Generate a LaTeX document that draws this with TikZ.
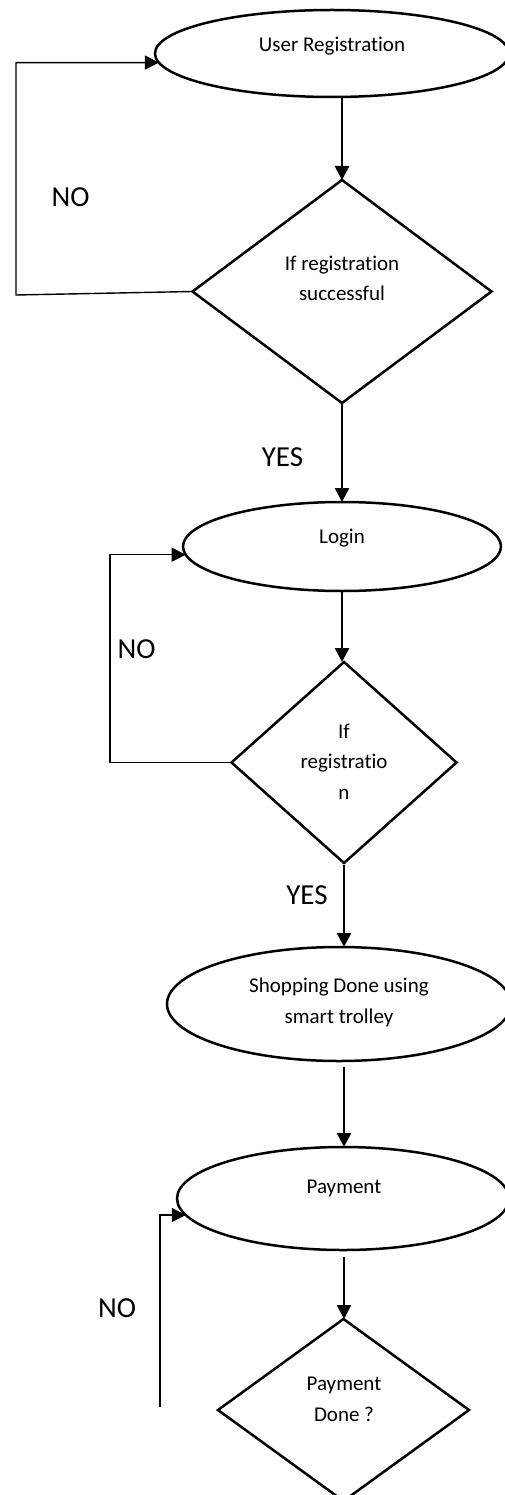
\documentclass[tikz,border=0pt]{standalone}
\usepackage{fontspec}
\setmainfont{Carlito}[Ligatures={NoCommon}]
\usetikzlibrary{shapes.geometric,arrows.meta}
\begin{document}
\begin{tikzpicture}[x=1pt,y=-1pt,
  ell/.style={ellipse,draw,line width=2.5pt,inner sep=0pt,outer sep=0pt},
  dia/.style={diamond,draw,line width=2.5pt,inner sep=0pt,outer sep=0pt},
  txt/.style={font=\fontsize{21}{30.5}\selectfont,align=center,anchor=base,inner sep=0pt},
  lbl/.style={font=\fontsize{29}{34}\selectfont,inner sep=0pt},
  flow/.style={line width=2.6pt,-{Triangle[length=14pt,width=14pt]}},
  back/.style={line width=1.4pt,-{Triangle[length=14pt,width=14pt]}},
]
\useasboundingbox (0,0) rectangle (505,1495);
\fill[white] (0,0) rectangle (505,1495);

% User Registration
\node[ell,minimum width=354pt,minimum height=87pt] (ur) at (332,53.5) {};
\node[txt] (urt) at (332,52) {User Registration};

% Decision 1
\node[dia,minimum width=299pt,minimum height=223pt] (d1) at (342,291.5) {};
\node[txt] (d1t) at (342,301) {If registration\\successful};
\draw[flow] (d1.north |- ur.south) -- (d1.north);
\draw[back] (d1.west) -- (16,295) |- (ur.183);
\node[lbl] (no1) at (70.5,197.5) {NO};

% Login
\node[ell,minimum width=318pt,minimum height=89pt] (login) at (342,546.5) {};
\node[txt] (logint) at (342,543) {Login};
\draw[flow] (d1.south) -- (login.north);
\node[lbl] (yes1) at (282.5,457) {YES};

% Decision 2
\node[dia,minimum width=225pt,minimum height=201pt] (d2) at (344,762.5) {};
\node[txt] (d2t) at (344,799) {If\\registratio\\n};
\draw[flow] (login.south) -- (login.south |- d2.north);
\draw[back] (d2.west) -- (110,762.5) |- (login.183);
\node[lbl] (no2) at (136.5,649) {NO};

% Shopping
\node[ell,minimum width=344pt,minimum height=114pt] (shop) at (339,1004) {};
\node[txt] (shopt) at (339,1023) {Shopping Done using\\smart trolley};
\draw[flow,shorten <=2pt] (d2.south) -- (d2.south |- shop.north);
\node[lbl] (yes2) at (307,895) {YES};

% Payment
\node[ell,minimum width=332pt,minimum height=103pt] (pay) at (343,1198.5) {};
\node[txt] (payt) at (344,1193) {Payment};
\draw[flow,shorten <=6pt] (d2.south |- shop.south) -- (d2.south |- pay.north);

% Decision 3
\node[dia,minimum width=251pt,minimum height=182pt] (d3) at (343.5,1410) {};
\node[txt] (d3t) at (344,1421) {Payment\\Done ?};
\draw[flow,shorten <=7pt] (d2.south |- pay.south) -- (d2.south |- d3.north);
\coordinate (c3) at (160,1407);
\draw[back] (c3) |- (pay.186);
\node[lbl] (no3) at (117,1308) {NO};
\end{tikzpicture}
\end{document}
